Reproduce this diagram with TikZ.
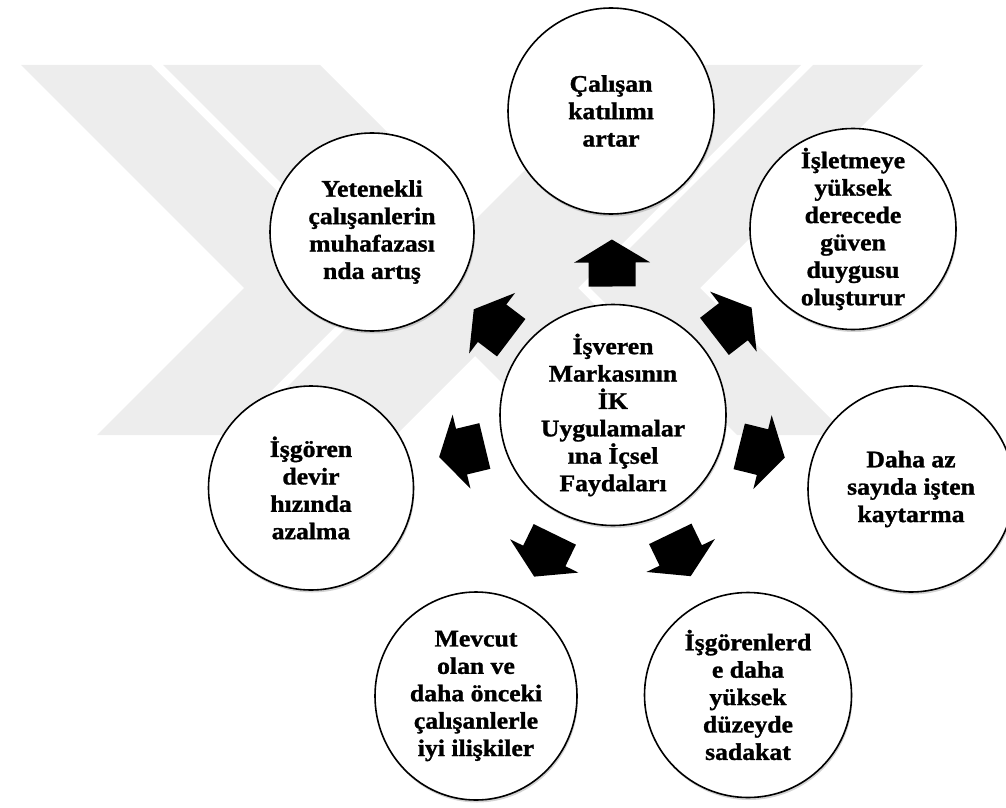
\documentclass[tikz,border=0pt]{standalone}
\usepackage{fontspec}
\setmainfont{Liberation Serif}[BoldFeatures={FakeStretch=1.08,FakeBold=1.2}]
\usetikzlibrary{calc,shapes.geometric,shadows}
\definecolor{wmgray}{HTML}{EDEDED}
\tikzset{
  bubble/.style={draw=black, line width=1.6pt, ellipse, fill=white, inner sep=0pt,
    drop shadow={shadow xshift=1pt, shadow yshift=-2.5pt, opacity=0.35}},
  bubbletext/.style={align=center, inner sep=0pt,
    font=\fontsize{23.8}{27.4}\selectfont\bfseries},
  wm/.style={fill=wmgray, draw=none},
  arrowfill/.style={fill=black, draw=none},
}
\newcommand{\barrow}[2]{%
  \coordinate (m-#2) at ($(#1.center)!0.5!(#2.center)$);
  \coordinate (a-#2) at ($(m-#2)!-23.5pt!(#2.center)$);
  \coordinate (b-#2) at ($(m-#2)!0.5pt!(#2.center)$);
  \coordinate (p-#2) at ($(m-#2)!23.5pt!(#2.center)$);
  \fill[arrowfill] ($(a-#2)!23.5pt!90:(p-#2)$) -- ($(b-#2)!23.5pt!90:(p-#2)$)
    -- ($(b-#2)!38pt!90:(p-#2)$) -- (p-#2) -- ($(b-#2)!38pt!-90:(p-#2)$)
    -- ($(b-#2)!23.5pt!-90:(p-#2)$) -- ($(a-#2)!23.5pt!-90:(p-#2)$) -- cycle;
}
\begin{document}
\begin{tikzpicture}[x=1pt,y=1pt]
\useasboundingbox (0,0) rectangle (1006,-808);
% watermark
\fill[wm] (21,-65) -- (151,-65) -- (374,-288) -- (227,-435) -- (97,-435) -- (244,-288) -- cycle;
\fill[wm] (163,-65) -- (320,-65) -- (543,-288) -- (396,-435) -- (239,-435) -- (386,-288) -- cycle;
\fill[wm] (813,-65) -- (923,-65) -- (700,-288) -- (847,-435) -- (737,-435) -- (590,-288) -- cycle;
\fill[wm] (630,-65) -- (801,-65) -- (578,-288) -- (725,-435) -- (554,-435) -- (407,-288) -- cycle;
% bubbles
\node[bubble, minimum width=226pt, minimum height=221pt] (C) at (613,-415) {};
\node[bubble, minimum width=206pt, minimum height=206pt] (T) at (611,-111) {};
\node[bubble, minimum width=206pt, minimum height=201pt] (UR) at (853,-229) {};
\node[bubble, minimum width=206pt, minimum height=206pt] (R) at (911,-489) {};
\node[bubble, minimum width=207pt, minimum height=205pt] (LR) at (748,-695) {};
\node[bubble, minimum width=202pt, minimum height=208pt] (LL) at (476,-696) {};
\node[bubble, minimum width=205pt, minimum height=204pt] (L) at (311,-488) {};
\node[bubble, minimum width=204pt, minimum height=198pt] (UL) at (372,-232) {};
% texts
\node[bubbletext] (Ct) at (C) {İşveren\\Markasının\\İK\\Uygulamalar\\ına İçsel\\Faydaları};
\node[bubbletext] (Tt) at (T) {Çalışan\\katılımı\\artar};
\node[bubbletext] (URt) at (UR) {İşletmeye\\yüksek\\derecede\\güven\\duygusu\\oluşturur};
\node[bubbletext] (Rt) at (R) {Daha az\\sayıda işten\\kaytarma};
\node[bubbletext] (LRt) at (LR) {İşgörenlerd\\e daha\\yüksek\\düzeyde\\sadakat};
\node[bubbletext] (LLt) at (LL) {Mevcut\\olan ve\\daha önceki\\çalışanlerle\\iyi ilişkiler};
\node[bubbletext] (Lt) at (L) {İşgören\\devir\\hızında\\azalma};
\node[bubbletext] (ULt) at (UL) {Yetenekli\\çalışanlerin\\muhafazası\\nda artış};
% arrows
\barrow{C}{T}
\barrow{C}{UR}
\barrow{C}{R}
\barrow{C}{LR}
\barrow{C}{LL}
\barrow{C}{L}
\barrow{C}{UL}
\end{tikzpicture}
\end{document}
